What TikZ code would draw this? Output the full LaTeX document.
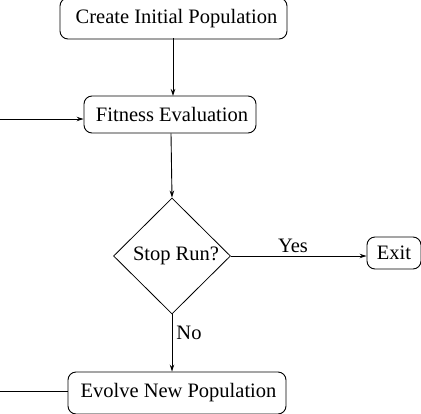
\documentclass[tikz,border=0pt]{standalone}
\usepackage{fontspec}
\setmainfont{Liberation Serif}
\usetikzlibrary{shapes.geometric,arrows.meta}
\begin{document}
\begin{tikzpicture}[x=1pt,y=-1pt,
  every node/.style={font=\fontsize{20.5}{24}\selectfont},
  procbox/.style={draw,line width=0.9pt,rounded corners=8pt,inner sep=0pt},
  decide/.style={draw,line width=0.8pt,diamond,inner sep=0pt,minimum width=117pt,minimum height=116pt},
  flow/.style={line width=0.9pt,-{Stealth[length=7pt,width=4.5pt]}},
  plain/.style={line width=0.9pt},
  lbl/.style={inner sep=0pt}]
\useasboundingbox (0,0) rectangle (421,413);
\clip (0,0) rectangle (421,413);
\node[procbox,minimum width=227pt,minimum height=41pt] (create) at (173.5,18.5) {\hspace{6pt}Create Initial Population};
\node[procbox,minimum width=172pt,minimum height=37pt] (fit) at (170,114.5) {\hspace{4pt}Fitness Evaluation};
\node[decide] (stop) at (172,256) {\hspace{8pt}Stop Run?};
\node[procbox,minimum width=54pt,minimum height=32pt] (exit) at (394,253) {Exit};
\node[procbox,minimum width=218pt,minimum height=42pt] (evolve) at (177,393) {\hspace{3pt}Evolve New Population};
\coordinate (inl) at (0,119);
\coordinate (outl) at (0,391);
\draw[flow] (173,38) -- (173,96);
\draw[flow] (fit.south -| 171,0) -- (stop.north);
\draw[flow] (inl) -- (inl -| fit.west);
\draw[flow] (stop.east) -- (stop.east -| exit.west);
\draw[flow] (stop.south) -- (stop.south |- evolve.north);
\draw[plain] (evolve.west |- outl) -- (outl);
\node[lbl] (yes) at (293,246) {Yes};
\node[lbl] (no) at (189,333) {No};
\end{tikzpicture}
\end{document}
